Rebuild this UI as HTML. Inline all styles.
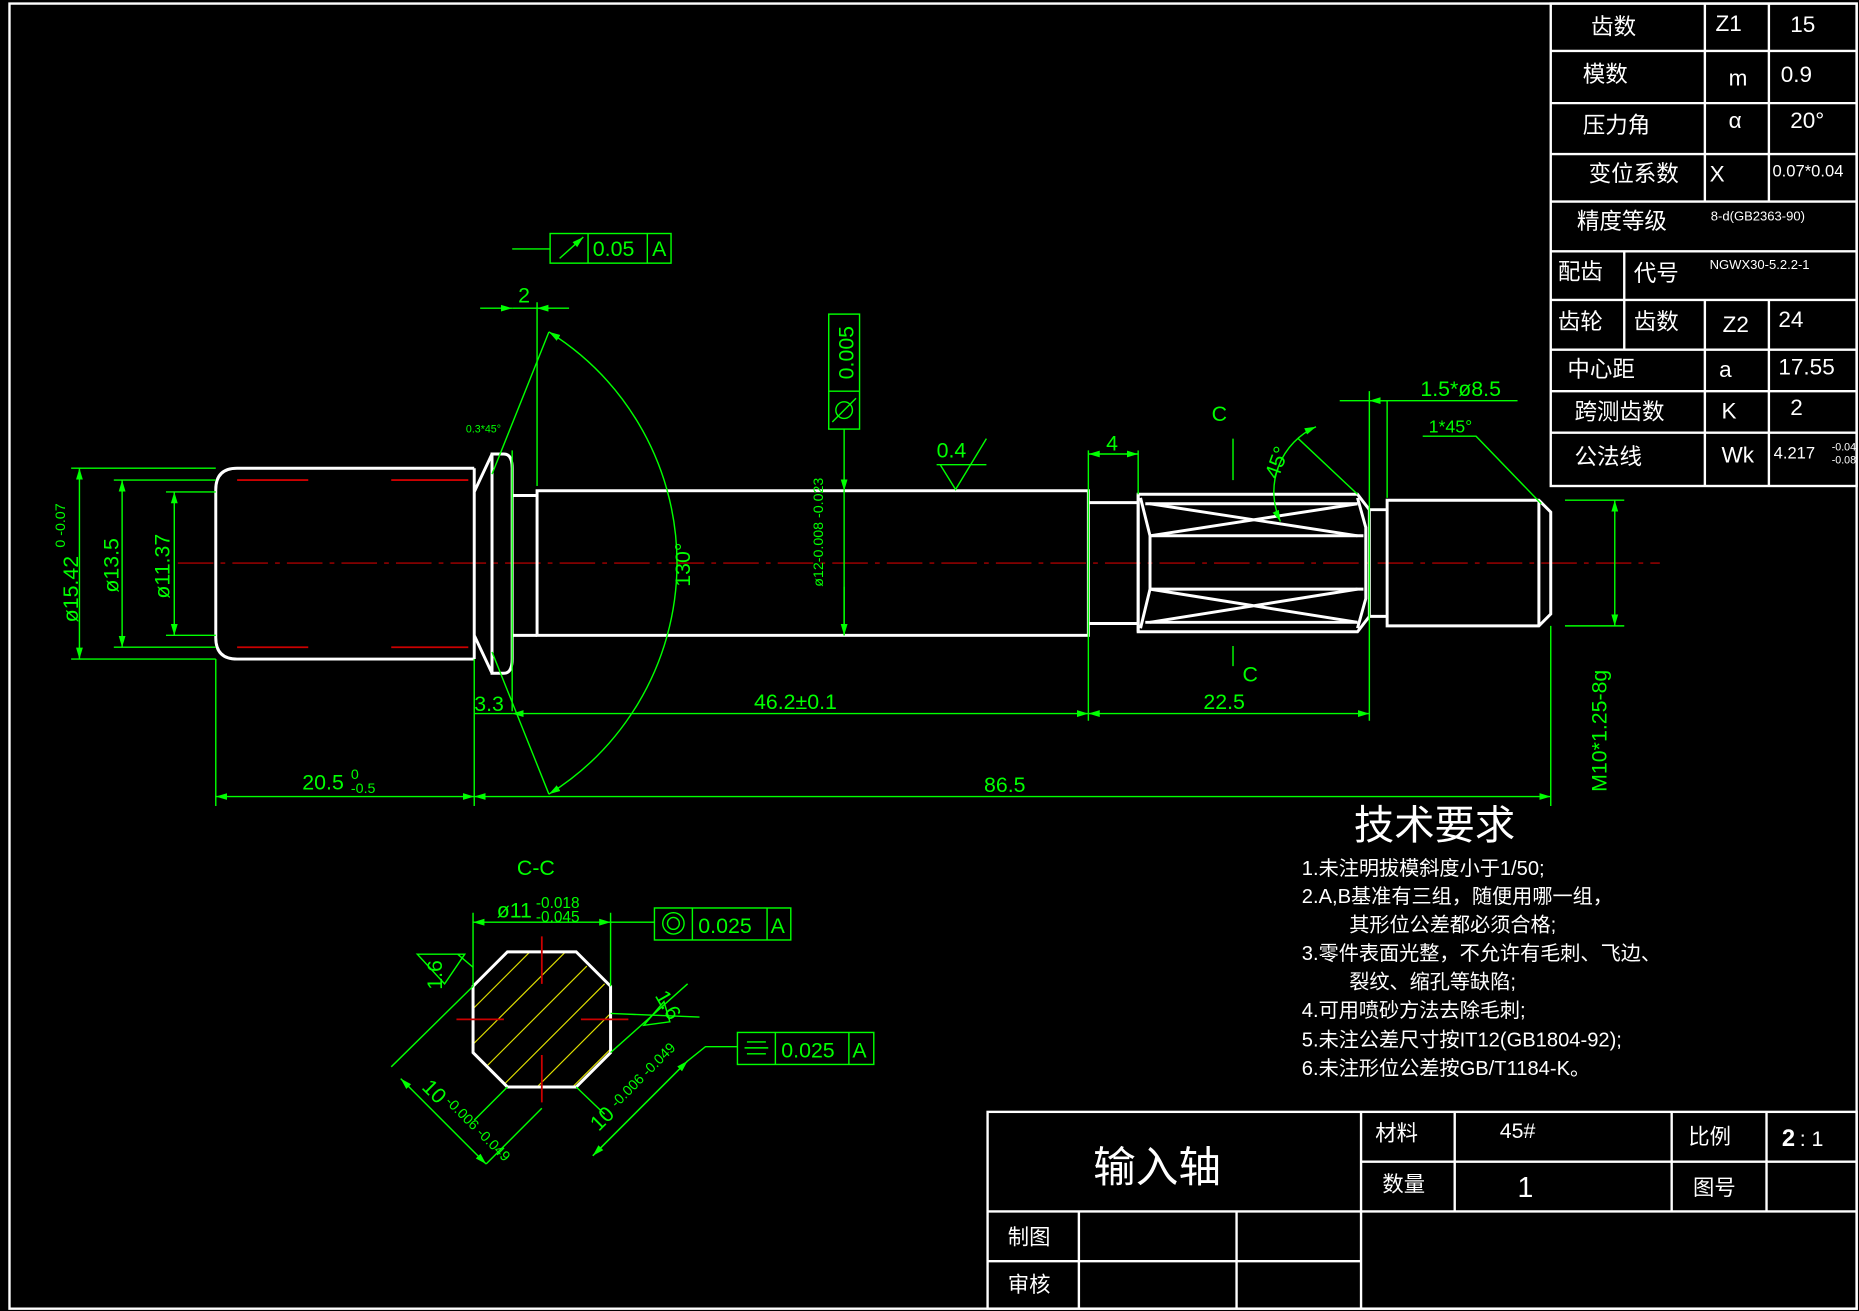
<!DOCTYPE html>
<html><head><meta charset="utf-8"><style>
html,body{margin:0;padding:0;background:#000;}
svg{display:block;}
text{font-family:"Liberation Sans","Noto Sans CJK SC",sans-serif;}
.w{stroke:#fff;fill:none;stroke-width:2.5}
.t{stroke:#fff;fill:none;stroke-width:2}
.g{stroke:#0f0;fill:none;stroke-width:1.2}
.gt{fill:#0f0}
.wt{fill:#fff}
</style></head><body>
<svg width="1859" height="1311" viewBox="0 0 1568 1106" preserveAspectRatio="none" font-size="18" xmlns="http://www.w3.org/2000/svg">
<defs>
<marker id="a" viewBox="0 0 10 10" refX="10" refY="5" markerWidth="8" markerHeight="8" orient="auto-start-reverse"><path d="M0,2 L10,5 L0,8z" fill="#0f0"/></marker>
<clipPath id="oct"><polygon points="428,803 486,803 515,832 515,888 486,917 428,917 399,888 399,832"/></clipPath>
</defs>
<rect width="1568" height="1106" fill="#000"/>
<path class="t" d="M8,3 H1566 V1104 H8 Z"/>
<g class="t">
<rect x="1308" y="3" width="258" height="407"/>
<path d="M1308,43H1566M1308,87H1566M1308,130H1566M1308,170H1566M1308,212H1566M1308,253H1566M1308,295H1566M1308,330H1566M1308,365H1566"/>
<path d="M1438,3V170M1492,3V170M1438,253V410M1492,253V410M1370,212V295"/>
</g>
<g class="wt" font-size="19">
<text x="1342" y="29">齿数</text><text x="1447" y="26">Z1</text><text x="1510" y="27">15</text>
<text x="1335" y="69">模数</text><text x="1458" y="72">m</text><text x="1502" y="69">0.9</text>
<text x="1335" y="112">压力角</text><text x="1458" y="108">α</text><text x="1510" y="108">20°</text>
<text x="1340" y="153">变位系数</text><text x="1442" y="153">X</text><text x="1495" y="149" font-size="14">0.07*0.04</text>
<text x="1330" y="193">精度等级</text><text x="1443" y="186" font-size="11">8-d(GB2363-90)</text>
<text x="1314" y="236">配齿</text><text x="1378" y="237">代号</text><text x="1442" y="227" font-size="11">NGWX30-5.2.2-1</text>
<text x="1314" y="278">齿轮</text><text x="1378" y="278">齿数</text><text x="1453" y="280">Z2</text><text x="1500" y="276">24</text>
<text x="1322" y="318">中心距</text><text x="1450" y="318">a</text><text x="1500" y="316">17.55</text>
<text x="1328" y="354">跨测齿数</text><text x="1452" y="353">K</text><text x="1510" y="350">2</text>
<text x="1328" y="392">公法线</text><text x="1452" y="390">Wk</text><text x="1496" y="387" font-size="14">4.217</text><text x="1545" y="380" font-size="9">-0.04</text><text x="1545" y="391" font-size="9">-0.08</text>
</g>
<g class="t">
<rect x="833" y="938" width="733" height="166"/>
<path d="M1148,938V1104M1148,980H1566M833,1022H1566M1227,938V1022M1410,938V1022M1490,938V1022M833,1064H1148M910,1022V1104M1043,1022V1104"/>
</g>
<text x="922" y="997" class="wt" font-size="36">输入轴</text>
<text x="1160" y="962" class="wt">材料</text><text x="1265" y="960" class="wt">45#</text>
<text x="1424" y="965" class="wt">比例</text><text x="1503" y="967" class="wt" font-size="20" font-weight="bold">2</text><text x="1518" y="967" class="wt">: 1</text>
<text x="1166" y="1005" class="wt">数量</text><text x="1280" y="1010" class="wt" font-size="24">1</text><text x="1428" y="1008" class="wt">图号</text>
<text x="850" y="1050" class="wt">制图</text><text x="850" y="1090" class="wt">审核</text>
<text x="1142" y="708" class="wt" font-size="34">技术要求</text>
<g class="wt" font-size="17" font-family="Liberation Serif,Noto Serif CJK SC,serif">
<text x="1098" y="738">1.未注明拔模斜度小于1/50;</text>
<text x="1098" y="762">2.A,B基准有三组，随便用哪一组，</text>
<text x="1138" y="786">其形位公差都必须合格;</text>
<text x="1098" y="810">3.零件表面光整，不允许有毛刺、飞边、</text>
<text x="1138" y="834">裂纹、缩孔等缺陷;</text>
<text x="1098" y="858">4.可用喷砂方法去除毛刺;</text>
<text x="1098" y="883">5.未注公差尺寸按IT12(GB1804-92);</text>
<text x="1098" y="907">6.未注形位公差按GB/T1184-K。</text>
</g>
<line x1="150" y1="475" x2="1400" y2="475" stroke="#c00" stroke-width="1" stroke-dasharray="30,6,4,6"/>
<g class="w">
<path d="M400,395 H200 Q182,395 182,413 V538 Q182,556 200,556 H400"/>
<path d="M400,395 V556 M400,415 L415,383 M400,536 L415,568"/>
<path d="M415,383 H425 Q432,383 432,395 V556 Q432,568 425,568 H415 Z"/>
<path d="M432,418 H453 M432,536 H453"/>
<rect x="453" y="414" width="465" height="122"/>
<path d="M918,424 H960 M918,526 H960"/>
<path d="M960,417 H1145 L1155,430 V520 L1145,533 H960 Z"/>
<path d="M960,417 V533 M962,420 L970,452 V497 L962,530"/>
<path d="M1145,420 L1152,445 V505 L1145,530"/>
<path d="M966,425 H1145 M970,452 H1150 M970,497 H1150 M966,525 H1145"/>
<path d="M970,425 L1145,452 M970,452 L1145,425 M970,497 L1145,525 M970,525 L1145,497"/>
<path d="M1155,430 H1170 M1155,520 H1170"/>
<path d="M1170,422 H1298 L1308,432 V518 L1298,528 H1170 Z M1298,422 V528"/>
</g>
<g stroke="#c00" stroke-width="1.5"><path d="M200,405 H260 M330,405 H395 M200,546 H260 M330,546 H395"/></g>
<g class="g">
<path d="M60,395 H182 M60,556 H182 M96,405 H182 M96,546 H182 M140,415 H182 M140,536 H182"/>
<path d="M67,395 V556" marker-start="url(#a)" marker-end="url(#a)"/>
<path d="M103,405 V546" marker-start="url(#a)" marker-end="url(#a)"/>
<path d="M147,415 V536" marker-start="url(#a)" marker-end="url(#a)"/>
<path d="M182,556 V680 M400,556 V680 M1308,528 V680 M432,380 V600 M453,255 V410 M918,380 V608 M1155,330 V608"/>
<path d="M182,672 H400" marker-start="url(#a)" marker-end="url(#a)"/>
<path d="M400,672 H1308" marker-start="url(#a)" marker-end="url(#a)"/>
<path d="M432,602 H918" marker-start="url(#a)" marker-end="url(#a)"/>
<path d="M918,602 H1155" marker-start="url(#a)" marker-end="url(#a)"/>
<path d="M400,602 H432"/>
<path d="M405,260 H432" marker-end="url(#a)"/><path d="M480,260 H453" marker-end="url(#a)"/><path d="M432,260 H453"/>
<path d="M918,383 H960" marker-start="url(#a)" marker-end="url(#a)"/><path d="M960,380 V417"/>
<path d="M1155,338 H1170" marker-start="url(#a)"/><path d="M1130,338 H1280"/><path d="M1170,338 V420"/>
<path d="M1200,368 H1245 L1300,425"/>
<path d="M1320,422 H1370 M1320,528 H1370"/><path d="M1362,422 V528" marker-start="url(#a)" marker-end="url(#a)"/>
<path d="M463,280 A230,230 0 0 1 463,670" marker-start="url(#a)" marker-end="url(#a)"/>
<path d="M463,280 L415,400 M463,670 L415,550"/>
<path d="M712,362 V414" marker-end="url(#a)"/><path d="M712,536 V495" marker-start="url(#a)"/><path d="M712,414 V536"/>
<rect x="699" y="265" width="26" height="97"/><path d="M699,330 H725"/>
<circle cx="712" cy="346" r="7"/><path d="M702,356 L722,336"/>
<path d="M790,392 H832 M793,392 L806,413 L832,370"/>
<rect x="464" y="197" width="102" height="25"/><path d="M496,197 V222 M546,197 V222"/>
<path d="M472,218 L492,200" marker-end="url(#a)"/>
<path d="M432,210 H464"/>
<path d="M1040,370 V405 M1040,545 V562"/>
<path d="M1080,440 A60,60 0 0 1 1110,360" marker-start="url(#a)" marker-end="url(#a)"/>
<path d="M1145,417 L1095,370"/>
</g>
<g class="gt">
<text x="66" y="525" transform="rotate(-90 66 525)">ø15.42</text><text x="55" y="462" font-size="12" transform="rotate(-90 55 462)">0 -0.07</text>
<text x="100" y="500" transform="rotate(-90 100 500)">ø13.5</text>
<text x="143" y="505" transform="rotate(-90 143 505)">ø11.37</text>
<text x="255" y="666">20.5</text><text x="296" y="657" font-size="12">0</text><text x="296" y="669" font-size="12">-0.5</text>
<text x="830" y="668">86.5</text><text x="636" y="598">46.2±0.1</text><text x="1015" y="598">22.5</text>
<text x="400" y="600">3.3</text><text x="437" y="255">2</text><text x="933" y="380">4</text>
<text x="500" y="216">0.05</text><text x="550" y="216">A</text>
<text x="790" y="386">0.4</text>
<text x="582" y="495" transform="rotate(-90 582 495)">130°</text>
<text x="720" y="320" transform="rotate(-90 720 320)">0.005</text>
<text x="694" y="495" font-size="12" transform="rotate(-90 694 495)">ø12-0.008 -0.023</text>
<text x="1198" y="334">1.5*ø8.5</text><text x="1205" y="365" font-size="15">1*45°</text>
<text x="1355" y="668" transform="rotate(-90 1355 668)">M10*1.25-8g</text>
<text x="1022" y="355">C</text><text x="1048" y="575">C</text>
<text x="1078" y="405" transform="rotate(-70 1078 405)">45°</text>
<text x="393" y="365" font-size="9">0.3*45°</text>
<text x="436" y="738">C-C</text>
</g>
<g clip-path="url(#oct)" stroke="#dd0" stroke-width="1">
<path d="M380,900 L480,800 M395,915 L495,815 M410,930 L510,830 M425,945 L525,845 M440,960 L540,860 M365,885 L465,785 M350,870 L450,770 M335,855 L435,755"/>
</g>
<polygon class="w" points="428,803 486,803 515,832 515,888 486,917 428,917 399,888 399,832"/>
<g stroke="#c00" stroke-width="1.5"><path d="M457,790 V830 M457,890 V930 M385,860 H425 M490,860 H530"/></g>
<g class="g">
<path d="M399,770 V832 M515,770 V832"/>
<path d="M399,778 H515" marker-start="url(#a)" marker-end="url(#a)"/><path d="M515,778 H552"/>
<rect x="552" y="766" width="115" height="27"/><path d="M584,766 V793 M647,766 V793"/>
<circle cx="568" cy="779" r="9"/><circle cx="568" cy="779" r="5"/>
<path d="M399,832 L330,900 M428,917 L400,945 M486,917 L510,940 M515,888 L580,830"/>
<path d="M338,910 L410,982" marker-start="url(#a)" marker-end="url(#a)"/>
<path d="M410,982 L457,935 M500,975 L580,895"/>
<path d="M500,975 L580,895" marker-start="url(#a)" marker-end="url(#a)"/>
<path d="M580,895 L595,883 H622"/>
<rect x="622" y="871" width="115" height="27"/><path d="M654,871 V898 M716,871 V898"/>
<path d="M630,879 H646 M628,884 H648 M630,889 H646"/>
<path d="M352,805 H392 L375,830 Z M386,805 L399,816"/>
<path d="M543,865 L560,845 L565,862 Z M515,855 L590,858"/>
</g>
<g class="gt">
<text x="419" y="774">ø11</text><text x="452" y="766" font-size="13">-0.018</text><text x="452" y="778" font-size="13">-0.045</text>
<text x="589" y="787">0.025</text><text x="650" y="787">A</text>
<text x="659" y="892">0.025</text><text x="719" y="892">A</text>
<text x="373" y="835" transform="rotate(-90 373 835)">1.6</text>
<text x="552" y="840" transform="rotate(60 552 840)">1.6</text>
<text x="355" y="918" transform="rotate(45 355 918)">10</text><text x="375" y="930" font-size="12" transform="rotate(45 375 930)">-0.006 -0.049</text>
<text x="505" y="955" transform="rotate(-45 505 955)">10</text><text x="520" y="935" font-size="12" transform="rotate(-45 520 935)">-0.006 -0.049</text>
</g>
</svg>
</body></html>
